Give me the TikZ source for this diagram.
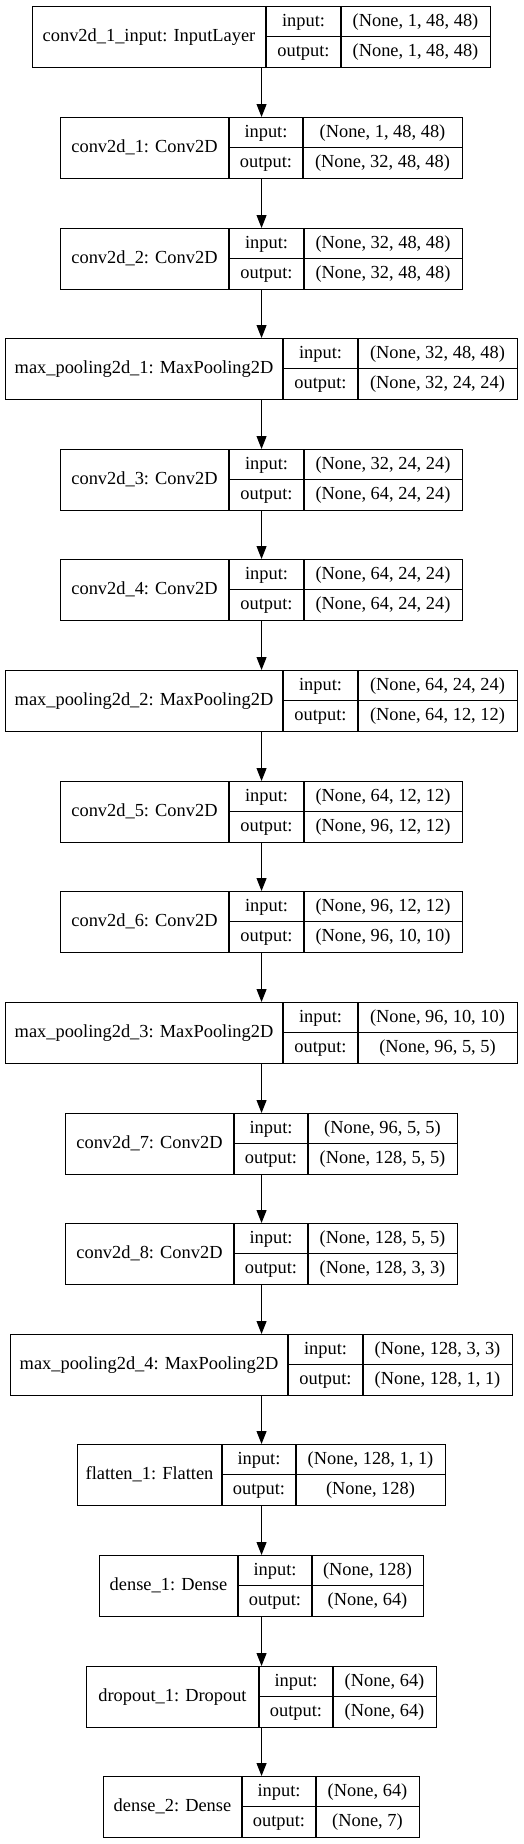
\documentclass[tikz,border=0pt]{standalone}
\usepackage{fontspec}
\setmainfont{Liberation Serif}
\usetikzlibrary{arrows.meta}
\tikzset{
  layerbox/.style={draw=black, line width=1.1pt, inner sep=0pt, anchor=north west, minimum height=61pt},
  cellline/.style={draw=black, line width=1.1pt},
  celltext/.style={anchor=base, inner sep=0pt, font=\fontsize{18.4}{22}\selectfont},
  flow/.style={draw=black, line width=1pt, -{Triangle[length=13pt,width=10pt]}},
}
\newcommand\kerasLayer[8]{%
  \pgfmathsetmacro\lxb{522-#3}%
  \pgfmathsetmacro\lw{\lxb-#3}%
  \pgfmathsetmacro\lmid{#2+30.5}%
  \pgfmathsetmacro\lbot{#2+61}%
  \pgfmathsetmacro\lnx{(#3+#4)/2}%
  \pgfmathsetmacro\lix{(#4+#5)/2}%
  \pgfmathsetmacro\lsx{(#5+\lxb)/2}%
  \pgfmathsetmacro\lnb{#2+35.7}%
  \pgfmathsetmacro\lib{#2+20.45}%
  \pgfmathsetmacro\lob{#2+50.95}%
  \node[layerbox, minimum width=\lw pt] (#1) at (#3,#2) {};
  \draw[cellline] (#4,#2) -- (#4,\lbot) (#5,#2) -- (#5,\lbot) (#4,\lmid) -- (\lxb,\lmid);
  \node[celltext] (#1-name) at (\lnx,\lnb) {#6};
  \node[celltext] (#1-inl) at (\lix,\lib) {input:};
  \node[celltext] (#1-outl) at (\lix,\lob) {output:};
  \node[celltext] (#1-in) at (\lsx,\lib) {#7};
  \node[celltext] (#1-out) at (\lsx,\lob) {#8};
}
\begin{document}
\begin{tikzpicture}[x=1pt,y=-1pt]
\useasboundingbox (0,0) rectangle (523,1844);
\kerasLayer{L0}{6}{32}{266}{341}{conv2d\_1\_input: InputLayer}{(None, 1, 48, 48)}{(None, 1, 48, 48)}
\kerasLayer{L1}{117}{60}{229}{303}{conv2d\_1: Conv2D}{(None, 1, 48, 48)}{(None, 32, 48, 48)}
\kerasLayer{L2}{228}{60}{229}{304}{conv2d\_2: Conv2D}{(None, 32, 48, 48)}{(None, 32, 48, 48)}
\kerasLayer{L3}{338}{5}{283}{358}{max\_pooling2d\_1: MaxPooling2D}{(None, 32, 48, 48)}{(None, 32, 24, 24)}
\kerasLayer{L4}{449}{60}{229}{304}{conv2d\_3: Conv2D}{(None, 32, 24, 24)}{(None, 64, 24, 24)}
\kerasLayer{L5}{559}{60}{229}{304}{conv2d\_4: Conv2D}{(None, 64, 24, 24)}{(None, 64, 24, 24)}
\kerasLayer{L6}{670}{5}{283}{358}{max\_pooling2d\_2: MaxPooling2D}{(None, 64, 24, 24)}{(None, 64, 12, 12)}
\kerasLayer{L7}{781}{60}{229}{304}{conv2d\_5: Conv2D}{(None, 64, 12, 12)}{(None, 96, 12, 12)}
\kerasLayer{L8}{891}{60}{229}{304}{conv2d\_6: Conv2D}{(None, 96, 12, 12)}{(None, 96, 10, 10)}
\kerasLayer{L9}{1002}{5}{283}{358}{max\_pooling2d\_3: MaxPooling2D}{(None, 96, 10, 10)}{(None, 96, 5, 5)}
\kerasLayer{L10}{1113}{65}{234}{308}{conv2d\_7: Conv2D}{(None, 96, 5, 5)}{(None, 128, 5, 5)}
\kerasLayer{L11}{1223}{65}{234}{308}{conv2d\_8: Conv2D}{(None, 128, 5, 5)}{(None, 128, 3, 3)}
\kerasLayer{L12}{1334}{10}{288}{363}{max\_pooling2d\_4: MaxPooling2D}{(None, 128, 3, 3)}{(None, 128, 1, 1)}
\kerasLayer{L13}{1444}{77}{222}{296}{flatten\_1: Flatten}{(None, 128, 1, 1)}{(None, 128)}
\kerasLayer{L14}{1555}{99}{238}{312}{dense\_1: Dense}{(None, 128)}{(None, 64)}
\kerasLayer{L15}{1666}{86}{259}{333}{dropout\_1: Dropout}{(None, 64)}{(None, 64)}
\kerasLayer{L16}{1776}{103}{242}{316}{dense\_2: Dense}{(None, 64)}{(None, 7)}
\foreach \a/\b in {L0/L1,L1/L2,L2/L3,L3/L4,L4/L5,L5/L6,L6/L7,L7/L8,L8/L9,L9/L10,L10/L11,L11/L12,L12/L13,L13/L14,L14/L15,L15/L16}
  \draw[flow] (\a.south) -- (\b.north);
\end{tikzpicture}
\end{document}
